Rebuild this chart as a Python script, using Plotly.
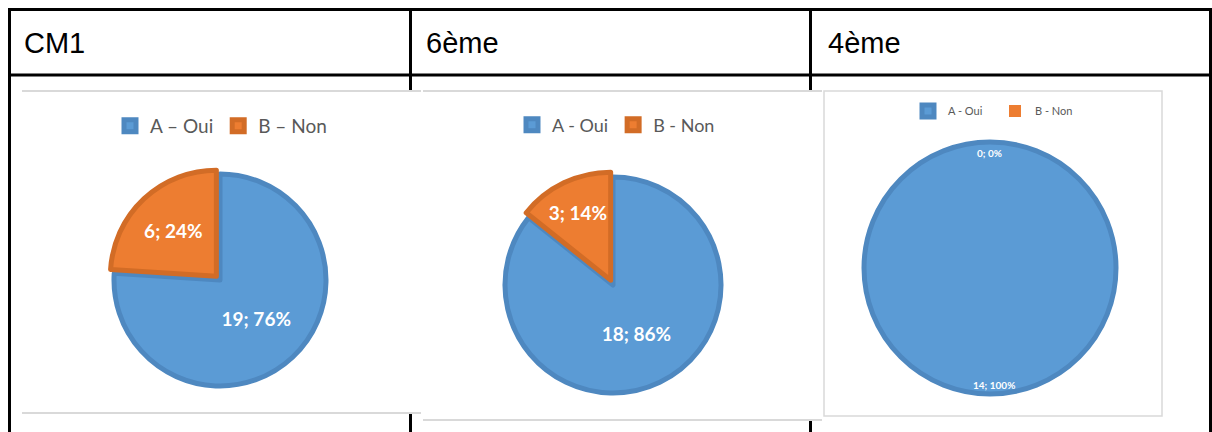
import plotly.graph_objects as go

W, H = 1212, 432

# ---- data ----
headers = ["CM1", "6ème", "4ème"]
labels_cm1 = ["A – Oui", "B – Non"]
labels_6 = ["A - Oui", "B - Non"]
# trailing space keeps these legend entries separate from the 6ème chart's (pie legends are keyed by label)
labels_4 = ["A - Oui ", "B - Non "]
values_cm1 = [19, 6]
values_6 = [18, 3]
values_4 = [14, 0]

BLUE, BLUE_EDGE = "#5B9BD5", "#4E88C0"
ORANGE, ORANGE_EDGE = "#ED7D31", "#D26C26"
GRAY_LINE = "#D9D9D9"


def fx(x):
    return x / W


def fy(y):
    return 1 - y / H


def dom(cx, cy, half):
    return dict(x=[fx(cx - half), fx(cx + half)], y=[fy(cy + half), fy(cy - half)])


fig = go.Figure()

common = dict(
    sort=False,
    direction="clockwise",
    rotation=0,
    textposition="inside",
    insidetextorientation="horizontal",
    hoverinfo="skip",
)

fig.add_trace(go.Pie(
    labels=labels_cm1, values=values_cm1,
    marker=dict(colors=[BLUE, ORANGE], line=dict(color=[BLUE_EDGE, ORANGE_EDGE], width=5)),
    pull=[0, 0.05],
    texttemplate="%{value}; %{percent:.0%}",
    textfont=dict(family="Lato", size=19, color="white", weight="bold"),
    domain=dom(220, 280, 106 * 1.05), legend="legend", **common))

fig.add_trace(go.Pie(
    labels=labels_6, values=values_6,
    marker=dict(colors=[BLUE, ORANGE], line=dict(color=[BLUE_EDGE, ORANGE_EDGE], width=5)),
    pull=[0, 0.05],
    texttemplate="%{value}; %{percent:.0%}",
    textfont=dict(family="Lato", size=19, color="white", weight="bold"),
    domain=dom(613, 285, 108 * 1.05), legend="legend2", **common))

fig.add_trace(go.Pie(
    labels=labels_4, values=values_4,
    marker=dict(colors=[BLUE, ORANGE], line=dict(color=[BLUE_EDGE, ORANGE_EDGE], width=[5, 0])),
    textinfo="none",
    domain=dom(990, 268, 126), legend="legend3", **common))

# ---- shapes: table + image frames ----
shapes = []


def line(x0, y0, x1, y1, color="black", width=3):
    shapes.append(dict(type="line", xref="paper", yref="paper", x0=fx(x0), y0=fy(y0), x1=fx(x1), y1=fy(y1),
                       line=dict(color=color, width=width), layer="below"))


def rect(x0, y0, x1, y1, fill="white", color=None, width=0):
    shapes.append(dict(type="rect", xref="paper", yref="paper", x0=fx(x0), y0=fy(y0), x1=fx(x1), y1=fy(y1),
                       fillcolor=fill, line=dict(color=color or "rgba(0,0,0,0)", width=width), layer="below"))


line(8, 9.5, 1212, 9.5)
line(8, 75, 1212, 75)
line(9.5, 8, 9.5, 432)
line(1210.5, 8, 1210.5, 432)
line(410.5, 8, 410.5, 432)
line(810.5, 8, 810.5, 432)

rect(22, 91, 421, 413)
line(22, 91, 421, 91, GRAY_LINE, 2)
line(22, 413, 421, 413, GRAY_LINE, 2)

rect(423, 91, 822, 420)
line(423, 91, 822, 91, GRAY_LINE, 2)
line(423, 420, 822, 420, GRAY_LINE, 2)

rect(824, 91, 1162, 416, "white", GRAY_LINE, 1.5)

# ---- annotations ----
annotations = []
for h, x in zip(headers, [22, 424, 826]):
    annotations.append(dict(text=h, x=fx(x), y=fy(43), xref="paper", yref="paper", xanchor="left",
                            yanchor="middle", showarrow=False,
                            font=dict(family="Liberation Sans", size=29, color="#000000")))

tot4 = sum(values_4)
for v, (ax, ay) in zip(values_4, [(994, 385), (990, 153)]):
    annotations.append(dict(text=f"{v}; {round(100 * v / tot4)}%", x=fx(ax), y=fy(ay), xref="paper",
                            yref="paper", xanchor="center", yanchor="middle", showarrow=False,
                            font=dict(family="Lato", size=10, color="white", weight="bold")))

leg_common = dict(orientation="h", xanchor="center", yanchor="middle", bgcolor="rgba(0,0,0,0)",
                  itemwidth=30, traceorder="normal", itemclick=False, itemdoubleclick=False)

fig.update_layout(
    width=W, height=H,
    margin=dict(l=0, r=0, t=0, b=0),
    paper_bgcolor="white", plot_bgcolor="white",
    shapes=shapes, annotations=annotations,
    legend=dict(x=fx(221), y=fy(126), font=dict(family="Lato", size=19, color="#595959"), **leg_common),
    legend2=dict(x=fx(616), y=fy(125), font=dict(family="Lato", size=18, color="#595959"), **leg_common),
    legend3=dict(x=fx(995), y=fy(111), font=dict(family="Lato", size=11, color="#595959"),
                 entrywidth=42, **leg_common),
)

fig.write_html("out.html", config={"displayModeBar": False},
               post_script="document.body.style.margin='0';")
